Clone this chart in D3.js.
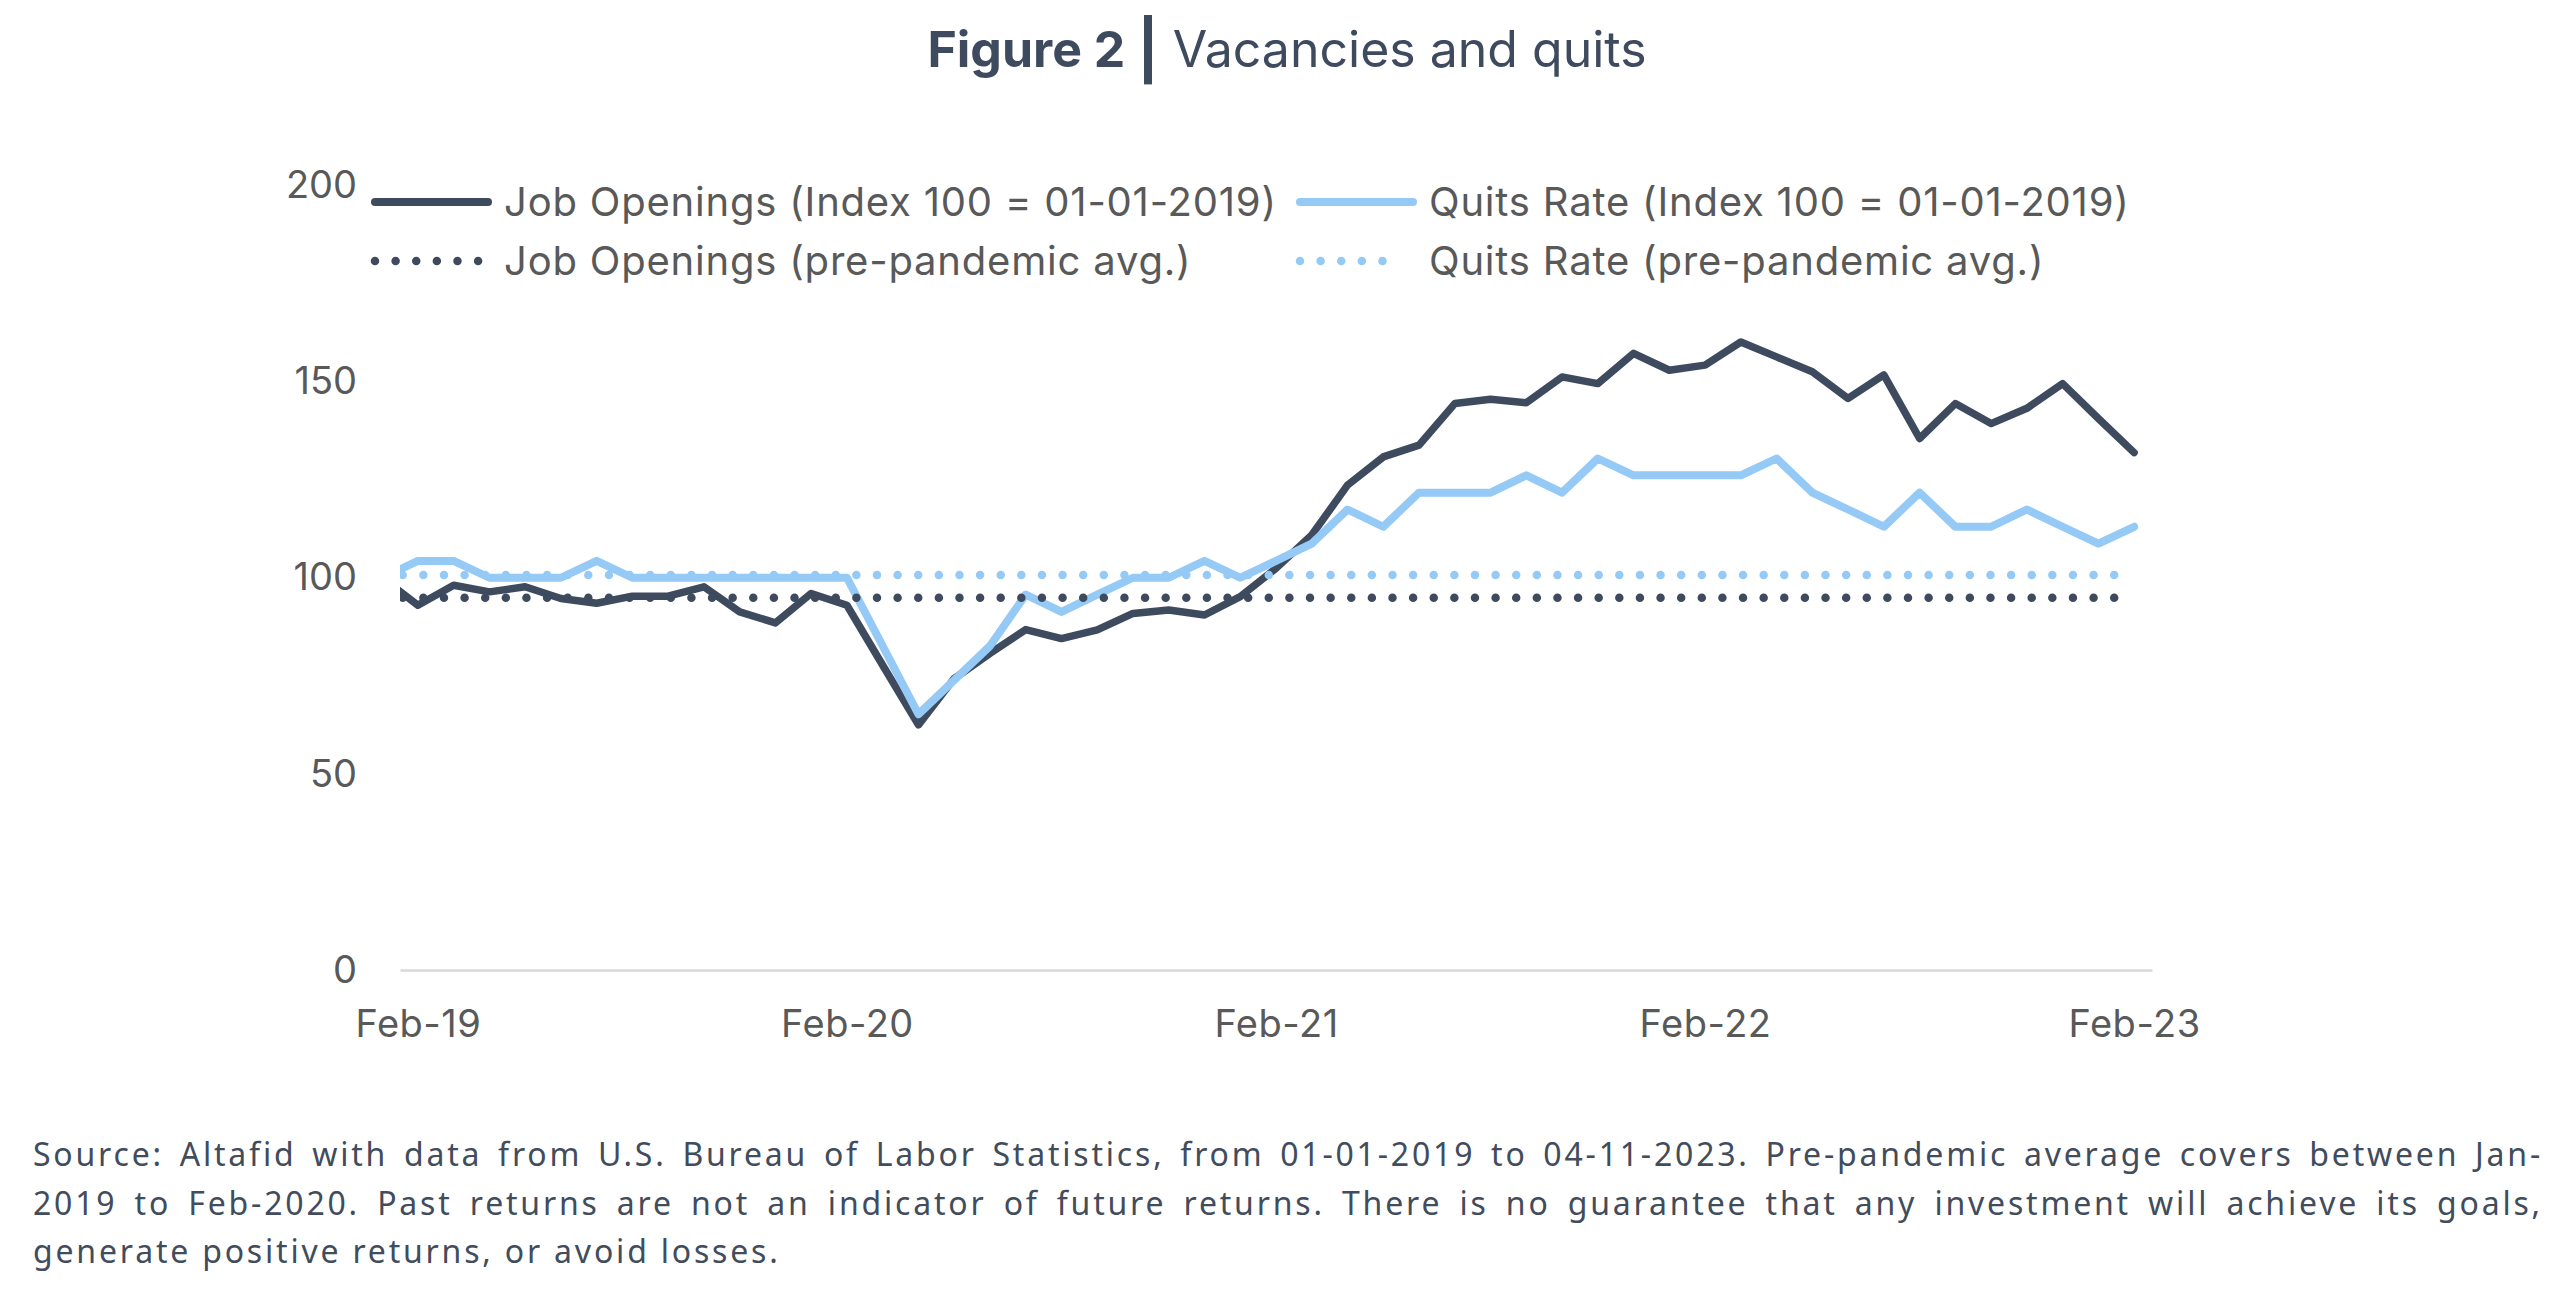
<!DOCTYPE html>
<html>
<head>
<meta charset="utf-8">
<script src="https://cdn.jsdelivr.net/npm/d3@7"></script>
<style>
  html, body { margin: 0; padding: 0; background: #ffffff; }
  body { width: 2574px; height: 1295px; position: relative; overflow: hidden; }
  svg { position: absolute; left: 0; top: 0; }
  #note { position: absolute; left: 33px; top: 1130px; width: 2510px;
          font-family: "Noto Sans", "Open Sans", sans-serif; font-size: 32px;
          letter-spacing: 2.8px; line-height: 48.5px; color: #414c5c; }
  #note div.j { text-align: justify; text-align-last: justify; }
</style>
</head>
<body>
<svg id="chart" width="2574" height="1295"></svg>
<div id="note"></div>
<script>
// ---------- data ----------
const months = [
  "Jan-19","Feb-19","Mar-19","Apr-19","May-19","Jun-19","Jul-19","Aug-19","Sep-19","Oct-19","Nov-19","Dec-19",
  "Jan-20","Feb-20","Mar-20","Apr-20","May-20","Jun-20","Jul-20","Aug-20","Sep-20","Oct-20","Nov-20","Dec-20",
  "Jan-21","Feb-21","Mar-21","Apr-21","May-21","Jun-21","Jul-21","Aug-21","Sep-21","Oct-21","Nov-21","Dec-21",
  "Jan-22","Feb-22","Mar-22","Apr-22","May-22","Jun-22","Jul-22","Aug-22","Sep-22","Oct-22","Nov-22","Dec-22",
  "Jan-23","Feb-23"
];
const jobOpenings = [
  100, 93.0, 98.1, 96.4, 97.7, 94.7, 93.5, 95.3, 95.3, 97.7, 91.3, 88.5,
  96.0, 93.0, 77.7, 62.5, 74.3, 80.7, 86.8, 84.5, 86.7, 90.9, 91.8, 90.5,
  95.2, 102.4, 110.9, 123.6, 130.8, 133.8, 144.4, 145.5, 144.6, 151.2, 149.5, 157.2,
  152.9, 154.2, 160.1, 156.3, 152.5, 145.7, 151.7, 135.5, 144.4, 139.3, 143.2, 149.5,
  140.6, 131.9
];
const quitsRate = [
  100, 104.3, 104.3, 100, 100, 100, 104.3, 100, 100, 100, 100, 100,
  100, 100, 82.6, 65.2, 73.9, 82.6, 95.7, 91.3, 95.7, 100, 100, 104.3,
  100, 104.3, 108.7, 117.4, 113, 121.7, 121.7, 121.7, 126.1, 121.7, 130.4, 126.1,
  126.1, 126.1, 126.1, 130.4, 121.7, 117.4, 113, 121.7, 113, 113, 117.4, 113,
  108.7, 113
];
const jobOpeningsAvg = 94.9;
const quitsRateAvg = 100.7;
const xTickLabels = ["Feb-19","Feb-20","Feb-21","Feb-22","Feb-23"];
const yTickValues = [0, 50, 100, 150, 200];
const seriesNames = [
  "Job Openings (Index 100 = 01-01-2019)",
  "Quits Rate (Index 100 = 01-01-2019)",
  "Job Openings (pre-pandemic avg.)",
  "Quits Rate (pre-pandemic avg.)"
];
const titleBold = "Figure 2";
const titleRest = "Vacancies and quits";
const noteLines = [
  "Source: Altafid with data from U.S. Bureau of Labor Statistics, from 01-01-2019 to 04-11-2023. Pre-pandemic average covers between Jan-",
  "2019 to Feb-2020. Past returns are not an indicator of future returns. There is no guarantee that any investment will achieve its goals,",
  "generate positive returns, or avoid losses."
];

// ---------- styles ----------
const DARK = "#3e4b5e";
const LIGHT = "#95c9f6";
const TEXT = "#595959";
const FONT = "Inter, 'Noto Sans', sans-serif";

const svg = d3.select("#chart");
const plot = { left: 400, right: 2152, top: 185.5, bottom: 970 };

const x = d3.scaleLinear().domain([0.5, months.length - 0.5]).range([plot.left, plot.right]);
const y = d3.scaleLinear().domain([0, 200]).range([plot.bottom, plot.top]);

// title
const title = svg.append("text")
  .attr("x", 1287).attr("y", 67).attr("text-anchor", "middle")
  .attr("font-family", FONT).attr("font-size", 50).attr("fill", "#3e4b5e");
title.append("tspan").attr("font-weight", 700).text(titleBold + " ");
title.append("tspan").attr("font-weight", 700).attr("font-size", 58).attr("dy", 4).text("|");
title.append("tspan").attr("font-weight", 400).attr("dy", -4).text(" " + titleRest);

// clip
svg.append("clipPath").attr("id", "plotclip").append("rect")
  .attr("x", plot.left).attr("y", 0).attr("width", plot.right - plot.left).attr("height", 1295);

// y axis (labels only)
const yAxis = svg.append("g").attr("transform", `translate(${plot.left},0)`)
  .call(d3.axisLeft(y).tickValues(yTickValues).tickSize(0).tickPadding(43));
yAxis.select(".domain").remove();
yAxis.selectAll("text").attr("font-family", FONT).attr("font-size", 38).attr("fill", TEXT);

// x axis
const xAxis = svg.append("g").attr("transform", `translate(0,${plot.bottom})`)
  .call(d3.axisBottom(x)
    .tickValues(xTickLabels.map(l => months.indexOf(l)))
    .tickFormat(i => months[i])
    .tickSize(0).tickSizeOuter(0));
xAxis.select(".domain").attr("stroke", "#d9d9d9").attr("stroke-width", 2.5);
xAxis.selectAll("text").attr("font-family", FONT).attr("font-size", 38).attr("fill", TEXT)
  .attr("y", 54).attr("dy", "0.35em").attr("letter-spacing", "0.5px");

// lines
const g = svg.append("g").attr("clip-path", "url(#plotclip)");
const line = d3.line().x((d, i) => x(i)).y(d => y(d));

g.append("path").datum(jobOpenings).attr("d", line)
  .attr("fill", "none").attr("stroke", DARK).attr("stroke-width", 7.5)
  .attr("stroke-linejoin", "round").attr("stroke-linecap", "round");
g.append("path").datum(quitsRate).attr("d", line)
  .attr("fill", "none").attr("stroke", LIGHT).attr("stroke-width", 8)
  .attr("stroke-linejoin", "round").attr("stroke-linecap", "round");
g.append("path").datum(months.map(() => jobOpeningsAvg)).attr("d", line)
  .attr("fill", "none").attr("stroke", DARK).attr("stroke-width", 8.5)
  .attr("stroke-linecap", "round").attr("stroke-dasharray", "0 20.62");
g.append("path").datum(months.map(() => quitsRateAvg)).attr("d", line)
  .attr("fill", "none").attr("stroke", LIGHT).attr("stroke-width", 8.5)
  .attr("stroke-linecap", "round").attr("stroke-dasharray", "0 20.62");

// legend
const legendItems = [
  { name: seriesNames[0], color: DARK, dotted: false, x: 375, y: 202, w: 8 },
  { name: seriesNames[1], color: LIGHT, dotted: false, x: 1300, y: 202, w: 8 },
  { name: seriesNames[2], color: DARK, dotted: true, x: 375, y: 261, w: 8.5 },
  { name: seriesNames[3], color: LIGHT, dotted: true, x: 1300, y: 261, w: 8.5 }
];
const lg = svg.append("g");
legendItems.forEach(it => {
  const len = it.dotted ? 103.1 : 113;
  lg.append("line").attr("x1", it.x).attr("x2", it.x + len).attr("y1", it.y).attr("y2", it.y)
    .attr("stroke", it.color).attr("stroke-width", it.w).attr("stroke-linecap", "round")
    .attr("stroke-dasharray", it.dotted ? "0 20.62" : null);
  lg.append("text").attr("x", it.x + 129).attr("y", it.y).attr("dy", "0.35em")
    .attr("font-family", FONT).attr("font-size", 40).attr("letter-spacing", "0.8px")
    .attr("fill", TEXT).text(it.name);
});

// footnote
const note = d3.select("#note");
noteLines.forEach((t, i) => {
  note.append("div").attr("class", i < noteLines.length - 1 ? "j" : "l").text(t);
});
</script>
</body>
</html>
